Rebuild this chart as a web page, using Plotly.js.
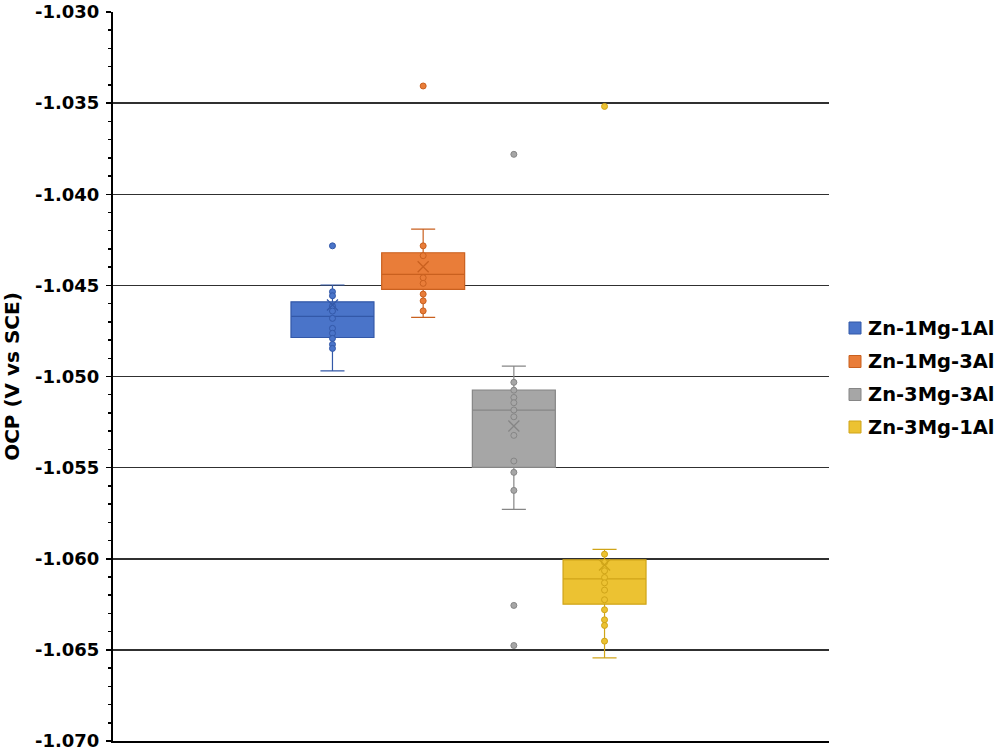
<!DOCTYPE html>
<html>
<head>
<meta charset="utf-8">
<script src="https://cdn.plot.ly/plotly-3.0.1.min.js"></script>
<style>html,body{margin:0;padding:0;background:#fff;}#chart{width:1000px;height:756px;}</style>
</head>
<body>
<div id="chart"></div>
<script>
// ---- data ----
const seriesNames = ['Zn-1Mg-1Al', 'Zn-1Mg-3Al', 'Zn-3Mg-3Al', 'Zn-3Mg-1Al'];
const q1Values     = [-1.04786, -1.04522, -1.05499, -1.06249];
const medianValues = [-1.04670, -1.04440, -1.05184, -1.06110];
const q3Values     = [-1.04590, -1.04321, -1.05075, -1.06006];
const lowerWhisker = [-1.04969, -1.04676, -1.05729, -1.06544];
const upperWhisker = [-1.04498, -1.04191, -1.04943, -1.05949];
const meanValues   = [-1.04608, -1.04398, -1.05272, -1.06034];

const pointsZn1Mg1Al = [-1.04535, -1.04557, -1.04614, -1.04641, -1.04681, -1.04736, -1.04763, -1.04791, -1.04824, -1.04846];
const pointsZn1Mg3Al = [-1.04283, -1.04337, -1.04458, -1.04489, -1.04548, -1.04585, -1.04640];
const pointsZn3Mg3Al = [-1.05032, -1.05075, -1.05115, -1.05144, -1.05184, -1.05221, -1.05323, -1.05464, -1.05526, -1.05625];
const pointsZn3Mg1Al = [-1.05975, -1.06020, -1.06066, -1.06103, -1.06132, -1.06172, -1.06225, -1.06280, -1.06335, -1.06366, -1.06452];

const outliersZn1Mg1Al = [-1.04283];
const outliersZn1Mg3Al = [-1.03406];
const outliersZn3Mg3Al = [-1.03781, -1.06256, -1.06476];
const outliersZn3Mg1Al = [-1.03518];

const tickValues = [-1.070, -1.065, -1.060, -1.055, -1.050, -1.045, -1.040, -1.035, -1.030];
const tickLabels = ['-1.070', '-1.065', '-1.060', '-1.055', '-1.050', '-1.045', '-1.040', '-1.035', '-1.030'];

// ---- styles ----
const fillColors = ['#4A74C9', '#E97D39', '#A6A6A6', '#ECC232'];
const lineColors = ['#3358A8', '#C9601F', '#868686', '#CFA418'];
const positions = [1, 2, 3, 4];

const pointSets = [pointsZn1Mg1Al, pointsZn1Mg3Al, pointsZn3Mg3Al, pointsZn3Mg1Al];
const outlierSets = [outliersZn1Mg1Al, outliersZn1Mg3Al, outliersZn3Mg3Al, outliersZn3Mg1Al];

const traces = [];
seriesNames.forEach((name, i) => {
  traces.push({
    type: 'box',
    name: name,
    x: [positions[i]],
    q1: [q1Values[i]],
    median: [medianValues[i]],
    q3: [q3Values[i]],
    lowerfence: [lowerWhisker[i]],
    upperfence: [upperWhisker[i]],
    boxpoints: false,
    width: 0.915,
    whiskerwidth: 0.29,
    fillcolor: fillColors[i],
    line: {color: lineColors[i], width: 1.2},
    hoverinfo: 'skip',
    showlegend: false
  });
});
seriesNames.forEach((name, i) => {
  const ys = pointSets[i].concat(outlierSets[i]);
  traces.push({
    type: 'scatter', mode: 'markers',
    x: ys.map(() => positions[i]), y: ys,
    marker: {size: 6, color: fillColors[i], line: {color: lineColors[i], width: 1}},
    showlegend: false, hoverinfo: 'skip'
  });
  traces.push({
    type: 'scatter', mode: 'markers',
    x: [positions[i]], y: [meanValues[i]],
    marker: {size: 11, symbol: 'x-thin-open', color: lineColors[i], line: {color: lineColors[i], width: 1.3}},
    showlegend: false, hoverinfo: 'skip'
  });
});

// ---- manual legend (pixel layout converted to paper coordinates) ----
const plotL = 113, plotR = 829, plotT = 12, plotB = 741;
const px2x = p => (p - plotL) / (plotR - plotL);
const px2y = p => (plotB - p) / (plotB - plotT);
const legendRowY = [328, 361.5, 394.5, 427];
const shapes = [];
const annotations = [];
seriesNames.forEach((name, i) => {
  const cy = legendRowY[i];
  shapes.push({
    type: 'rect', xref: 'paper', yref: 'paper',
    x0: px2x(849), x1: px2x(861), y0: px2y(cy + 6), y1: px2y(cy - 6),
    fillcolor: fillColors[i], line: {color: lineColors[i], width: 1}
  });
  annotations.push({
    xref: 'paper', yref: 'paper', x: px2x(866), y: px2y(cy),
    xanchor: 'left', yanchor: 'middle', showarrow: false,
    text: name,
    font: {family: 'DejaVu Sans', size: 19.5, color: '#000', weight: 'bold'}
  });
});

const layout = {
  width: 1000, height: 756,
  margin: {l: plotL, r: 1000 - plotR, t: plotT, b: 756 - plotB},
  paper_bgcolor: '#ffffff', plot_bgcolor: '#ffffff',
  font: {family: 'DejaVu Sans', color: '#000', size: 18, weight: 'bold'},
  showlegend: false,
  shapes: shapes,
  annotations: annotations,
  xaxis: {
    range: [-1.42, 6.475],
    showgrid: false, zeroline: false, showticklabels: false, ticks: '',
    showline: true, linecolor: '#000', linewidth: 2, fixedrange: true
  },
  yaxis: {
    range: [-1.070, -1.030],
    tickmode: 'array', tickvals: tickValues, ticktext: tickLabels,
    tickfont: {family: 'DejaVu Sans', size: 18, color: '#000', weight: 'bold'},
    ticks: 'outside', ticklen: 5, tickwidth: 1.5, tickcolor: '#000',
    ticklabelstandoff: 3,
    minor: {dtick: 0.001, tick0: -1.07, ticks: 'outside', ticklen: 3, tickwidth: 1.5, tickcolor: '#000', showgrid: false},
    showgrid: true, gridcolor: '#303030', gridwidth: 1.5,
    zeroline: false,
    showline: true, linecolor: '#000', linewidth: 2,
    title: {text: 'OCP (V vs SCE)', font: {family: 'DejaVu Sans', size: 20, color: '#000', weight: 'bold'}, standoff: 13},
    automargin: false
  }
};

Plotly.newPlot('chart', traces, layout, {staticPlot: true, displayModeBar: false});
</script>
</body>
</html>
